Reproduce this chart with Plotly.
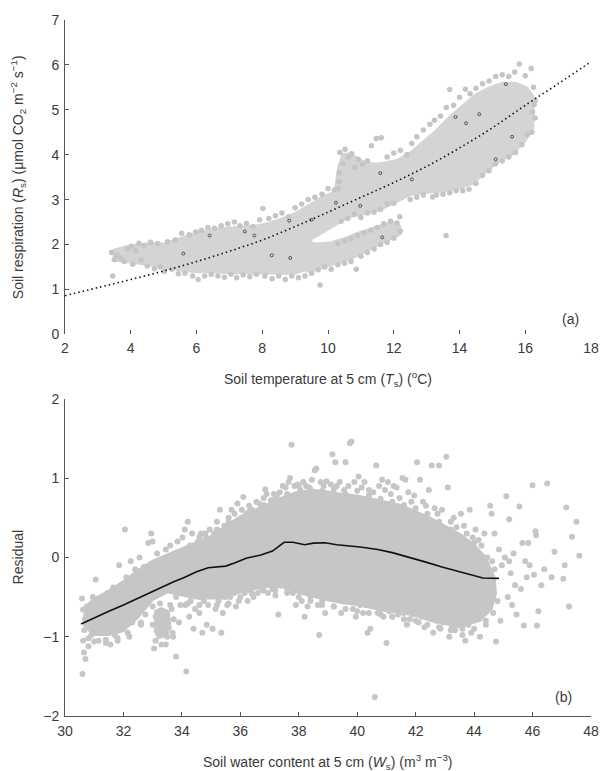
import plotly.graph_objects as go

# ---------------- Panel (a): soil respiration vs soil temperature ----------------
# Outline of the dense band of observations (T in degC, Rs in umol CO2 m-2 s-1)
band_T = [3.45, 3.8, 4.2, 4.6, 5.0, 5.4, 5.8, 6.2, 6.6, 7.0, 7.4, 7.8, 8.2, 8.6, 9.0, 9.4, 9.8, 10.2,
          10.32, 10.45, 10.7, 11.0, 11.4, 11.7, 12.1, 12.5, 12.9, 13.3, 13.7, 14.1, 14.5, 14.9, 15.3, 15.7,
          16.05, 16.25,
          16.25, 16.0, 15.6, 15.2, 14.8, 14.4, 14.0, 13.5, 13.0, 12.5, 12.1, 11.6, 11.1, 10.6, 10.2,
          9.8, 9.5, 9.4, 9.0, 8.5, 8.0, 7.5, 7.0, 6.5, 6.0, 5.5, 5.0, 4.5, 4.0, 3.45]
band_Rs = [1.88, 1.95, 2.0, 2.03, 2.02, 2.12, 2.22, 2.3, 2.35, 2.38, 2.4, 2.42, 2.48, 2.58, 2.7, 2.88, 3.05, 3.18,
           3.75, 4.02, 4.02, 3.88, 3.8, 3.82, 3.88, 4.05, 4.3, 4.55, 4.85, 5.1, 5.35, 5.5, 5.6, 5.6,
           5.5, 5.3,
           4.6, 4.3, 4.0, 3.85, 3.6, 3.35, 3.25, 3.18, 3.15, 3.1, 2.95, 2.78, 2.68, 2.6, 2.42,
           2.25, 2.12, 1.45, 1.35, 1.35, 1.36, 1.36, 1.36, 1.38, 1.38, 1.42, 1.48, 1.55, 1.6, 1.65]

# Outline of the lower branch of observations
arm_T = [9.3, 9.7, 10.1, 10.5, 10.9, 11.3, 11.7, 12.1, 12.2, 12.2, 11.9, 11.5, 11.1, 10.7, 10.3, 9.9, 9.5, 9.3]
arm_Rs = [2.05, 2.02, 2.05, 2.14, 2.26, 2.36, 2.45, 2.5, 2.4, 2.22, 2.12, 1.98, 1.82, 1.68, 1.58, 1.5, 1.4, 1.4]

# Individual observations at the edges of the band
obs_a = [
    (3.42, 1.82), (3.45, 1.30), (3.50, 1.66), (3.58, 1.76), (3.70, 1.70), (3.80, 1.62), (3.90, 1.90),
    (4.02, 1.96), (4.06, 1.56), (4.15, 1.86), (4.25, 2.03), (4.32, 1.66), (4.42, 1.98), (4.50, 1.52),
    (4.60, 2.05), (4.72, 1.46), (4.82, 2.02), (4.90, 1.50), (5.02, 1.40), (5.12, 2.06), (5.25, 1.45),
    (5.35, 2.10), (5.45, 1.35), (5.55, 2.25), (5.65, 1.36), (5.78, 2.22), (5.88, 1.30), (5.98, 2.28),
    (6.05, 1.22), (6.15, 2.32), (6.25, 1.30), (6.35, 2.38), (6.45, 1.34), (6.55, 2.36), (6.65, 1.30),
    (6.75, 2.42), (6.85, 1.27), (6.95, 2.46), (7.05, 1.34), (7.15, 2.50), (7.22, 1.26), (7.32, 2.42),
    (7.42, 1.32), (7.52, 2.47), (7.62, 1.28), (7.72, 2.40), (7.82, 1.34), (7.92, 2.55), (8.02, 2.80),
    (8.08, 1.30), (8.20, 2.58), (8.30, 1.24), (8.40, 2.64), (8.50, 1.30), (8.60, 2.70), (8.70, 1.22),
    (8.80, 2.62), (8.90, 1.30), (9.00, 2.82), (9.10, 1.26), (9.20, 2.90), (9.30, 1.30), (9.40, 3.00),
    (9.50, 1.36), (9.60, 3.05), (9.70, 1.44), (9.76, 1.10), (9.82, 3.12), (9.90, 1.50), (10.00, 3.25),
    (10.10, 1.45), (10.20, 3.22), (10.30, 1.55), (10.36, 4.05), (10.45, 3.80), (10.52, 4.12),
    (10.62, 3.95), (10.72, 4.02), (10.82, 3.72), (10.92, 3.90), (11.05, 3.78), (11.20, 3.86),
    (11.32, 4.20), (11.47, 4.36), (11.62, 4.38), (11.80, 3.95), (12.00, 4.04), (12.20, 4.10),
    (12.40, 4.00), (12.55, 4.25), (10.40, 2.52), (10.60, 2.58), (10.80, 2.68), (11.00, 2.60),
    (11.20, 2.70), (11.40, 2.72), (11.60, 2.78), (11.80, 2.90), (12.00, 2.92), (10.50, 1.58),
    (10.70, 1.62), (10.86, 1.45), (11.00, 1.74), (11.20, 1.82), (11.40, 1.90), (11.60, 2.00),
    (11.80, 2.05), (12.00, 2.14), (12.20, 2.30), (12.18, 2.62), (12.10, 2.48), (11.90, 2.52),
    (11.70, 2.46), (11.50, 2.38), (11.30, 2.32), (11.10, 2.26), (10.90, 2.20), (10.70, 2.12),
    (10.50, 2.08), (10.30, 2.02), (13.59, 2.20), (12.70, 4.40), (12.90, 4.55), (13.10, 4.68),
    (13.24, 4.77), (13.42, 4.86), (13.60, 5.05), (13.70, 5.45), (13.82, 5.10), (14.00, 5.28),
    (14.18, 5.46), (14.32, 5.36), (14.50, 5.48), (14.70, 5.58), (14.90, 5.64), (15.10, 5.74),
    (15.30, 5.78), (15.50, 5.74), (15.68, 5.84), (15.82, 6.02), (16.00, 5.76), (16.18, 5.92),
    (16.25, 5.50), (16.30, 5.20), (16.30, 4.82), (16.20, 4.50), (16.06, 4.45), (15.90, 4.22),
    (15.70, 4.05), (15.50, 3.95), (15.30, 3.86), (15.10, 3.80), (14.90, 3.64), (14.70, 3.54),
    (14.50, 3.36), (14.29, 3.23), (14.10, 3.20), (13.90, 3.20), (13.70, 3.15), (13.50, 3.12),
    (13.30, 3.10), (13.18, 3.06), (12.90, 3.10), (12.70, 3.05), (12.50, 3.00), (16.22, 4.95),
    (16.27, 5.12), (10.33, 3.40), (10.34, 3.60), (10.31, 3.25),
]
obs_a_T = [p[0] for p in obs_a]
obs_a_Rs = [p[1] for p in obs_a]

# Flagged observations (small dark symbols)
flag_T = [5.6, 6.4, 7.47, 7.76, 8.29, 8.82, 8.85, 9.5, 10.24, 10.98, 11.59, 11.65, 12.55,
          13.88, 14.2, 14.6, 15.1, 15.41, 15.6]
flag_Rs = [1.8, 2.2, 2.29, 2.2, 1.76, 2.53, 1.7, 2.55, 2.93, 2.86, 3.59, 2.16, 3.45,
           4.84, 4.7, 4.9, 3.9, 5.57, 4.4]

# Temperature-response fit of Rs
fit_T = [2, 3, 4, 5, 6, 7, 8, 9, 10, 11, 12, 13, 14, 15, 16, 17, 18]
fit_Rs = [0.86, 1.04, 1.22, 1.41, 1.62, 1.85, 2.1, 2.4, 2.72, 3.05, 3.38, 3.74, 4.15, 4.6, 5.1, 5.58, 6.07]

# ---------------- Panel (b): residual vs soil water content ----------------
# Outline of the dense cloud of residuals
core_ws = [30.65, 30.75, 31.0, 31.5, 32.0, 32.5, 33.0, 33.5, 34.0, 34.5, 35.0, 35.5, 36.0,
           36.5, 37.0, 37.5, 38.0, 38.5, 39.0, 39.5, 40.0, 40.5, 41.0, 41.5, 42.0, 42.5, 43.0, 43.5,
           44.0, 44.4, 44.7, 44.75,
           44.6, 44.2, 43.5, 43.0, 42.5, 42.0, 41.5, 41.0, 40.5, 40.0, 39.5, 39.0, 38.5, 38.0,
           37.5, 37.0, 36.5, 36.0, 35.5, 35.0, 34.5, 34.0, 33.5, 33.0, 32.5, 32.0, 31.5, 31.0, 30.75]
core_resid = [-0.75, -0.6, -0.52, -0.42, -0.3, -0.16, -0.04, 0.04, 0.12, 0.2, 0.27, 0.4, 0.52,
              0.6, 0.68, 0.77, 0.83, 0.85, 0.83, 0.8, 0.78, 0.74, 0.7, 0.66, 0.58, 0.5, 0.4, 0.3,
              0.16, 0.0, -0.25, -0.45,
              -0.65, -0.8, -0.88, -0.84, -0.8, -0.74, -0.7, -0.68, -0.64, -0.6, -0.58, -0.54, -0.5, -0.45,
              -0.38, -0.37, -0.4, -0.44, -0.52, -0.52, -0.52, -0.48, -0.44, -0.54, -0.76, -0.93, -0.98, -0.98, -0.9]

# Outline of the low-residual cluster near Ws = 33-34
blob_ws = [33.05, 33.3, 33.55, 33.6, 33.5, 33.2, 33.05]
blob_resid = [-0.68, -0.64, -0.68, -0.85, -0.98, -1.02, -0.92]

# Individual residuals at the edges of the cloud
obs_b = [
    (30.58, -0.52), (30.62, -1.05), (30.65, -1.20), (30.60, -1.47), (30.70, -1.28), (30.75, -0.62),
    (30.80, -1.12), (30.90, -0.98), (30.95, -0.50), (30.85, -0.72), (30.72, -0.85), (30.66, -0.92),
    (31.05, -0.28), (31.10, -0.62), (31.15, -1.05), (31.20, -0.85), (31.25, -0.55), (31.30, -0.95),
    (31.35, -0.72), (31.40, -1.08), (31.45, -0.45), (31.12, -0.78), (31.55, -1.10), (31.60, -0.66),
    (31.65, -0.38), (31.70, -0.98), (31.75, -0.55), (31.80, -1.05), (31.85, -0.10), (31.90, -0.75),
    (31.95, -0.42), (31.58, -0.85), (32.05, 0.35), (32.10, -0.25), (32.15, -0.95), (32.20, -0.55),
    (32.25, -0.05), (32.30, -0.82), (32.35, -0.35), (32.40, -0.15), (32.45, -0.66), (32.12, -0.45),
    (32.55, 0.00), (32.60, -0.85), (32.65, -0.40), (32.70, -0.12), (32.75, -0.72), (32.80, -0.50),
    (32.85, 0.18), (32.90, -0.30), (32.95, 0.30), (33.00, 0.20), (32.98, -0.08), (33.05, -1.15),
    (33.10, -0.75), (33.15, 0.05), (33.20, -0.95), (33.30, -1.10), (33.35, -0.20), (33.40, -0.70),
    (33.45, 0.10), (33.50, -1.00), (33.25, -0.35), (33.55, -0.88), (33.60, 0.15), (33.65, -0.65),
    (33.70, -1.00), (33.75, -0.30), (33.80, -1.25), (33.85, 0.20), (33.90, -0.82), (33.95, -0.60),
    (33.62, -0.12), (34.02, 0.25), (34.10, 0.35), (34.15, -1.44), (34.20, 0.45), (34.25, -0.75),
    (34.30, -0.55), (34.35, 0.30), (34.40, -0.90), (34.45, -0.65), (34.12, -0.60), (34.28, 0.15),
    (34.55, 0.20), (34.60, -0.70), (34.65, 0.30), (34.70, -0.95), (34.75, -0.55), (34.80, 0.28),
    (34.85, -0.85), (34.90, -0.60), (34.95, 0.35), (34.62, -0.50), (35.05, -0.90), (35.10, 0.30),
    (35.15, -0.65), (35.20, 0.45), (35.25, -0.55), (35.30, 0.60), (35.35, -0.95), (35.40, -0.70),
    (35.45, 0.40), (35.48, -0.50), (35.55, -0.60), (35.60, 0.50), (35.65, -0.50), (35.70, 0.60),
    (35.75, -0.45), (35.80, 0.55), (35.85, -0.62), (35.90, 0.68), (35.95, -0.55), (35.72, -0.35),
    (36.05, 0.60), (36.10, 0.76), (36.15, -0.45), (36.20, 0.55), (36.25, -0.55), (36.30, 0.65),
    (36.35, -0.42), (36.40, 0.60), (36.45, -0.50), (36.55, 0.70), (36.60, -0.45), (36.70, 0.62),
    (36.75, -0.40), (36.80, 0.75), (36.85, 0.86), (36.90, 0.80), (36.95, -0.45), (36.65, 0.68),
    (37.05, 0.72), (37.10, -0.40), (37.15, 0.80), (37.20, -0.48), (37.25, 0.78), (37.30, -0.72),
    (37.35, 0.82), (37.40, -0.35), (37.45, 0.90), (37.55, 0.88), (37.60, -0.40), (37.65, 0.95),
    (37.70, 1.00), (37.75, 1.42), (37.80, -0.45), (37.85, 0.90), (37.90, -0.60), (37.95, 0.92),
    (38.05, 0.85), (38.10, -0.55), (38.15, 0.95), (38.20, -0.75), (38.25, 0.90), (38.30, -0.62),
    (38.35, 0.88), (38.40, -0.50), (38.45, 0.98), (38.55, 1.10), (38.60, 1.12), (38.65, -0.60),
    (38.70, -0.98), (38.75, 0.95), (38.80, -0.55), (38.85, 0.90), (38.90, -0.70), (38.95, 0.96),
    (39.05, -0.52), (39.10, 0.92), (39.15, 1.30), (39.20, -0.62), (39.25, 1.20), (39.30, 0.90),
    (39.35, -0.45), (39.40, 0.95), (39.45, -0.70), (39.55, 0.85), (39.60, 1.20), (39.65, -0.55),
    (39.70, 0.90), (39.75, 1.44), (39.80, 1.46), (39.85, -0.65), (39.90, 0.95), (39.95, -0.75),
    (40.05, 1.02), (40.10, -0.60), (40.15, 0.88), (40.20, -0.70), (40.25, 0.95), (40.30, -0.60),
    (40.35, -0.95), (40.40, 0.85), (40.45, -0.90), (40.55, 0.82), (40.60, -1.76), (40.65, 1.16),
    (40.70, -0.70), (40.75, 0.90), (40.80, -0.65), (40.85, 0.98), (40.90, -0.75), (40.95, 0.85),
    (41.00, -1.08), (41.05, 0.95), (41.10, -0.68), (41.15, 0.80), (41.20, -0.75), (41.25, 0.90),
    (41.30, -0.60), (41.35, 0.88), (41.40, -0.72), (41.45, 0.75), (41.55, 1.00), (41.60, -0.70),
    (41.65, 0.98), (41.70, -0.85), (41.75, 0.82), (41.80, -0.78), (41.85, 0.70), (41.90, -0.72),
    (41.95, 0.78), (42.05, 1.20), (42.10, -0.82), (42.15, 0.98), (42.20, -0.75), (42.25, 0.70),
    (42.30, -0.88), (42.35, 0.65), (42.40, -0.70), (42.45, 0.85), (42.55, 1.16), (42.60, -0.95),
    (42.65, 0.62), (42.70, -0.80), (42.75, 0.55), (42.80, 1.16), (42.85, -0.90), (42.90, 0.60),
    (42.95, -0.82), (43.05, 1.27), (43.10, 0.88), (43.15, -1.00), (43.20, 0.45), (43.25, -0.88),
    (43.30, 0.50), (43.35, -0.92), (43.40, 0.38), (43.45, -0.78), (43.55, 0.55), (43.60, -0.98),
    (43.65, 0.40), (43.70, -1.05), (43.75, 0.30), (43.80, -0.85), (43.85, 0.60), (43.90, -0.95),
    (43.95, 0.25), (44.05, 0.35), (44.10, -0.75), (44.15, 0.22), (44.20, -1.00), (44.25, 0.15),
    (44.30, -0.65), (44.35, 0.30), (44.40, -0.85), (44.45, 0.00), (44.20, -0.40), (44.30, -0.20),
    (44.55, 0.65), (44.60, 0.55), (44.65, -0.70), (44.70, 0.30), (44.75, -1.06), (44.80, -0.55),
    (44.85, 0.10), (44.90, -0.80), (44.95, -0.10), (44.60, -0.35), (44.70, -0.15), (45.05, 0.00),
    (45.10, 0.77), (45.15, -0.50), (45.20, 0.48), (45.25, -0.20), (45.30, -0.60), (45.35, 0.05),
    (45.40, -0.35), (45.45, -0.72), (45.20, -0.05), (45.55, 0.64), (45.60, -0.40), (45.65, 0.18),
    (45.70, -0.86), (45.75, -0.05), (45.80, -0.25), (45.85, 0.18), (45.90, -0.10), (46.00, 0.91),
    (46.05, -0.22), (46.10, 0.33), (46.12, 0.28), (46.15, -0.86), (46.20, -0.68), (46.30, -0.35),
    (46.40, -0.15), (46.50, 0.93), (46.65, -0.25), (46.75, 0.07), (47.05, -0.27), (47.10, -0.10),
    (47.15, 0.63), (47.25, -0.62), (47.35, 0.26), (47.50, 0.45), (47.60, 0.02),
    # residuals lying along the rim of the dense cloud
    (34.60, 0.26), (34.80, 0.30), (35.20, 0.35), (35.60, 0.45), (36.30, 0.58), (36.80, 0.66),
    (37.20, 0.74), (37.60, 0.80), (38.00, 0.90), (38.40, 0.86), (38.80, 0.84), (39.20, 0.86),
    (39.60, 0.80), (40.00, 0.84), (40.40, 0.78), (40.80, 0.74), (41.20, 0.70), (41.60, 0.66),
    (42.00, 0.62), (42.40, 0.55), (42.80, 0.45), (43.20, 0.35), (43.60, 0.25), (44.00, 0.18),
    (35.20, -0.60), (35.60, -0.58), (36.00, -0.50), (36.40, -0.46), (36.80, -0.42), (37.20, -0.42),
    (37.60, -0.45), (38.00, -0.50), (38.40, -0.55), (38.80, -0.60), (39.20, -0.62), (39.60, -0.65),
    (40.00, -0.68), (40.40, -0.70), (40.80, -0.72), (41.20, -0.75), (41.60, -0.78), (42.00, -0.80),
    (42.40, -0.85), (42.80, -0.88), (43.20, -0.92), (43.60, -0.90), (44.00, -0.90), (44.40, -0.80),
    (34.60, -0.60), (34.20, -0.58), (33.80, -0.50), (32.60, -0.82), (32.20, -1.00), (31.80, -1.02),
    (31.40, -1.04), (31.00, -1.06), (30.80, -1.02), (33.00, -0.62), (33.10, -1.05), (33.25, -0.58),
    (33.45, -1.10), (33.60, -0.60), (33.72, -0.78), (33.68, -0.95), (33.00, -0.85), (33.35, -0.85),
    (44.50, -0.50), (44.55, -0.20), (44.62, -0.05), (44.45, -0.62), (30.62, -0.66), (30.68, -0.78),
]
obs_b_ws = [p[0] for p in obs_b]
obs_b_resid = [p[1] for p in obs_b]

# Smoothed residual trend
trend_ws = [30.55, 31.0, 31.5, 32.0, 32.65, 33.2, 33.7, 34.1, 34.5, 34.9, 35.3, 35.5, 35.8, 36.2, 36.7,
            37.1, 37.5, 37.8, 38.2, 38.5, 38.9, 39.3, 40.1, 40.7, 41.2, 41.8, 42.35, 42.9, 43.4, 43.9,
            44.3, 44.85]
trend_resid = [-0.84, -0.76, -0.68, -0.6, -0.49, -0.39, -0.31, -0.25, -0.18, -0.13, -0.12, -0.11, -0.07,
               -0.01, 0.03, 0.08, 0.19, 0.19, 0.16, 0.18, 0.185, 0.16, 0.13, 0.1, 0.06, 0.0, -0.06, -0.12,
               -0.17, -0.22, -0.26, -0.265]

# ---------------- styling ----------------
GREY_A_FILL = "#d4d4d4"
GREY_A_DOT = "#c5c5c5"
GREY_B = "#c6c6c8"
AXIS = "#555555"
TEXT = "#3a3a3a"
FONT = "Liberation Sans, Arial, sans-serif"

fig = go.Figure()

# Panel (a)
for xs, ys in ((band_T, band_Rs), (arm_T, arm_Rs)):
    fig.add_trace(go.Scatter(x=xs, y=ys, mode="lines", fill="toself", fillcolor=GREY_A_FILL,
                             line=dict(width=2, color=GREY_A_FILL), hoverinfo="skip",
                             xaxis="x", yaxis="y"))
fig.add_trace(go.Scatter(x=obs_a_T, y=obs_a_Rs, mode="markers",
                         marker=dict(size=5.5, color=GREY_A_DOT, line=dict(width=0)),
                         xaxis="x", yaxis="y"))
fig.add_trace(go.Scatter(x=flag_T, y=flag_Rs, mode="markers",
                         marker=dict(size=3, symbol="circle-open", color="#444444", line=dict(width=0.9)),
                         xaxis="x", yaxis="y"))
fig.add_trace(go.Scatter(x=fit_T, y=fit_Rs, mode="lines", line_shape="spline",
                         line=dict(color="#111111", width=1.6, dash="1.5px,3px"),
                         xaxis="x", yaxis="y"))

# Panel (b)
for xs, ys in ((core_ws, core_resid), (blob_ws, blob_resid)):
    fig.add_trace(go.Scatter(x=xs, y=ys, mode="lines", fill="toself", fillcolor=GREY_B,
                             line=dict(width=2, color=GREY_B), hoverinfo="skip",
                             xaxis="x2", yaxis="y2"))
fig.add_trace(go.Scatter(x=obs_b_ws, y=obs_b_resid, mode="markers",
                         marker=dict(size=6, color=GREY_B, line=dict(width=0)),
                         xaxis="x2", yaxis="y2"))
fig.add_trace(go.Scatter(x=trend_ws, y=trend_resid, mode="lines",
                         line=dict(color="#111111", width=1.6),
                         xaxis="x2", yaxis="y2"))

common_axis = dict(showgrid=False, zeroline=False, ticks="inside", ticklen=4, tickwidth=1,
                   tickcolor=AXIS, linecolor=AXIS, linewidth=1,
                   tickfont=dict(family=FONT, size=14, color=TEXT))

fig.update_layout(
    width=611, height=771,
    margin=dict(l=65, r=14, t=14, b=55),
    paper_bgcolor="white", plot_bgcolor="white",
    showlegend=False,
    font=dict(family=FONT, size=14, color=TEXT),
    xaxis=dict(domain=[0, 1], anchor="y", range=[2, 18], tickvals=list(range(2, 19, 2)),
               showline=False, ticklabelstandoff=4, **common_axis),
    yaxis=dict(domain=[0.5484, 1], anchor="x", range=[0, 7], tickvals=list(range(0, 8)),
               showline=True, ticklabelstandoff=2, **common_axis),
    xaxis2=dict(domain=[0, 1], anchor="y2", range=[30, 48], tickvals=list(range(30, 49, 2)),
                showline=True, ticklabelstandoff=2, **common_axis),
    yaxis2=dict(domain=[0, 0.4558], anchor="x2", range=[-2, 2], tickvals=[-2, -1, 0, 1, 2],
                showline=True, ticklabelstandoff=2, **common_axis),
)

annotations = [
    dict(text="Soil temperature at 5 cm (<i>T</i><sub>s</sub>) (<sup>o</sup>C)",
         xref="x domain", yref="y domain", x=0.5, y=0, yshift=-45,
         xanchor="center", yanchor="middle", showarrow=False),
    dict(text="Soil respiration (<i>R</i><sub>s</sub>) (\u03bcmol CO<sub>2</sub> m<sup>\u22122</sup> s<sup>\u22121</sup>)",
         xref="x domain", yref="y domain", x=0, y=0.5, xshift=-47, textangle=-90,
         xanchor="center", yanchor="middle", showarrow=False),
    dict(text="Soil water content at 5 cm (<i>W</i><sub>s</sub>) (m<sup>3</sup> m<sup>\u22123</sup>)",
         xref="x2 domain", yref="y2 domain", x=0.5, y=0, yshift=-46,
         xanchor="center", yanchor="middle", showarrow=False),
    dict(text="Residual",
         xref="x2 domain", yref="y2 domain", x=0, y=0.5, xshift=-47, textangle=-90,
         xanchor="center", yanchor="middle", showarrow=False),
    dict(text="(a)", xref="x", yref="y", x=17.37, y=0.35, showarrow=False,
         xanchor="center", yanchor="middle"),
    dict(text="(b)", xref="x2", yref="y2", x=47.05, y=-1.76, showarrow=False,
         xanchor="center", yanchor="middle"),
]
fig.update_layout(annotations=annotations)

fig.write_html("out.html")
